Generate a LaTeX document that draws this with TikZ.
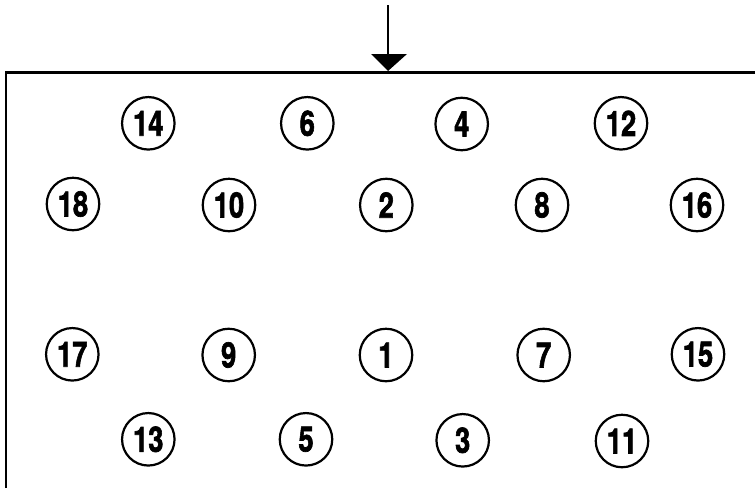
\documentclass[tikz,border=0pt]{standalone}
\usepackage{graphicx}
\usepackage{fontspec}
\setmainfont{TeX Gyre Heros}[BoldFeatures={FakeBold=2}]
\newcommand{\condensed}[1]{\scalebox{.78}[1]{#1}}
\tikzset{num/.style={circle,draw=black,line width=2.2pt,minimum size=52.5pt,inner sep=0pt,font=\fontsize{35}{35}\selectfont\bfseries},
edge/.style={line width=2.4pt,draw=black}}
\begin{document}
\begin{tikzpicture}[x=1pt,y=-1pt]
\useasboundingbox (0,0) rectangle (755,488);
\fill[white] (0,0) rectangle (755,488);
\foreach \n/\x/\y in {14/148.3/123.3,6/307.3/123.3,4/461.7/124,12/621/123.3,18/73/204,10/229/205,2/386.3/205,8/542/205,16/697/205,17/72.3/354.3,9/228.7/355,1/386/355,7/543.7/355,15/698/354.3,13/148.3/439.3,5/306/439.3,3/462.7/440.3,11/622/441}{
\node[num] (n\n) at (\x,\y) {\condensed{\n}};}
\coordinate (a) at (6,488);
\coordinate (b) at (6,72.5);
\coordinate (c) at (755,72.5);
\coordinate (t) at (388,5);
\coordinate (h) at (388,71);
\draw[edge] (a)--(b)--(c);
\draw[edge] (t)--(388,54);
\fill (h)--(371,54)--(407,54)--cycle;
\end{tikzpicture}
\end{document}
